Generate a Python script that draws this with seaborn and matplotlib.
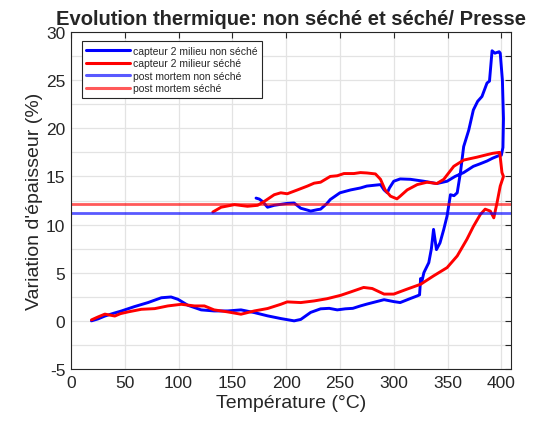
import numpy as np
import pandas as pd
import matplotlib
matplotlib.use("Agg")
import matplotlib.pyplot as plt
from matplotlib.ticker import MultipleLocator, FuncFormatter
import seaborn as sns

# ---- data ----
blue_T = [19, 25, 31.5, 40, 47, 59, 71.6, 84, 93, 99.4, 108.6, 121, 133, 145.7, 158, 170.4,
          182.7, 195, 207.4, 213.6, 222.8, 232, 240, 247.5, 255, 262, 269, 275, 291, 300, 306,
          315, 322, 324, 325, 326, 328, 332.6, 335, 337, 339.7, 343, 346.5, 349.6, 352.7, 356,
          359, 362, 365, 369.7, 374, 378, 382, 386.7, 389, 391.4, 394, 398, 399, 401, 402,
          401.5, 400,
          398.5, 392, 386.7, 380, 374, 365, 357, 349.6, 340, 328, 315.6, 306, 300, 296, 294,
          291, 287.7, 275, 269, 260, 250, 241, 238, 232, 229, 222.8, 219.8, 213.5, 207.4, 201,
          188.9, 182.7, 178, 175, 172]
blue_V = [0, 0.2, 0.5, 0.8, 1.03, 1.48, 1.9, 2.4, 2.48, 2.24, 1.62, 1.14, 1.03, 1.03, 1.14, 0.86,
          0.52, 0.24, 0.0, 0.15, 0.88, 1.25, 1.3, 1.14, 1.25, 1.3, 1.55, 1.74, 2.2, 2.0, 1.9,
          2.3, 2.6, 2.7, 4.4, 4.0, 5.0, 6.05, 7.5, 9.5, 7.4, 8.1, 9.5, 10.9, 13.1, 13.0,
          13.3, 15.4, 18.1, 19.8, 21.9, 22.8, 23.3, 24.7, 24.9, 28.05, 27.8, 27.95, 27.8, 25, 21,
          18, 17.2,
          17.2, 16.9, 16.6, 16.3, 16.05, 15.4, 15.0, 14.5, 14.26, 14.5, 14.7, 14.74, 14.5, 13.8, 13.3,
          13.6, 14.15, 14.0, 13.8, 13.6, 13.3, 12.6, 12.2, 11.6, 11.55, 11.4, 11.5, 11.7, 12.24, 12.2,
          12.0, 11.8, 12.4, 12.65, 12.75]

red_T = [19, 25, 31.5, 40.7, 46, 53, 65.4, 77.8, 90, 102.5, 114.8, 124, 133, 145.7, 158, 170.4,
         182.7, 195, 201, 213.6, 226, 238, 250.6, 259.9, 272, 280, 291, 300, 312.5, 325, 337,
         349.6, 359, 368, 374, 380.5, 385, 389.8, 393, 396, 399, 402, 400.6, 398.5,
         392, 386.7, 377.4, 365, 355.8, 346.5, 340, 331, 321.8, 312.5, 306, 303, 297, 292,
         287.7, 283, 275, 269, 263, 253.7, 247.5, 241, 232, 226, 219.8, 210.5, 201, 195, 188.9,
         179.6, 173.5, 164, 151.9, 139.5, 131.8]
red_V = [0.1, 0.4, 0.7, 0.5, 0.75, 0.93, 1.2, 1.27, 1.55, 1.72, 1.55, 1.55, 1.14, 0.93, 0.69, 1.03,
         1.28, 1.72, 1.97, 1.9, 2.07, 2.3, 2.65, 3.0, 3.47, 3.36, 2.78, 2.78, 3.3, 3.8, 4.67,
         5.53, 6.74, 8.47, 9.8, 11.05, 11.6, 11.4, 10.7, 12.26, 14.0, 15.0, 15.4, 17.5,
         17.4, 17.26, 17.0, 16.7, 16.05, 14.7, 14.26, 14.4, 14.15, 13.6, 12.95, 12.67, 12.95, 13.6,
         14.7, 15.26, 15.36, 15.4, 15.3, 15.3, 15.07, 15.0, 14.4, 14.3, 14.0, 13.6, 13.2, 13.3, 13.1,
         12.4, 12.0, 11.9, 12.07, 11.8, 11.3]

post_mortem_non_seche = 11.2
post_mortem_seche = 12.1

labels = ["capteur 2 milieu non séché", "capteur 2 milieur séché",
          "post mortem non séché", "post mortem séché"]
x_limits = [0, 409]
y_limits = [-5, 30]

# ---- style ----
sns.set_style("white")
plt.rcParams["font.family"] = ["Liberation Sans", "DejaVu Sans"]

fig = plt.figure(figsize=(5.33, 4.31), dpi=100)
ax = fig.add_axes([71 / 533, (431 - 370) / 431, 440 / 533, (370 - 33) / 431])

df_blue = pd.DataFrame({"T": blue_T, "V": blue_V})
df_red = pd.DataFrame({"T": red_T, "V": red_V})

sns.lineplot(data=df_blue, x="T", y="V", sort=False, estimator=None, ax=ax,
             color="#0000ff", lw=2.1, label=labels[0])
sns.lineplot(data=df_red, x="T", y="V", sort=False, estimator=None, ax=ax,
             color="#ff0000", lw=2.1, label=labels[1])
ax.axhline(post_mortem_non_seche, color="#0000ff", alpha=0.65, lw=2.0, label=labels[2])
ax.axhline(post_mortem_seche, color="#ff0000", alpha=0.65, lw=2.0, label=labels[3])

ax.set_xlim(*x_limits)
ax.set_ylim(*y_limits)
ax.xaxis.set_major_locator(MultipleLocator(50))
ax.yaxis.set_major_locator(MultipleLocator(2.5))
ax.yaxis.set_major_formatter(FuncFormatter(lambda v, p: f"{v:g}" if abs(v % 5) < 1e-9 else ""))

ax.grid(True, color="#e3e3e3", lw=0.9)
ax.set_axisbelow(True)
ax.tick_params(direction="in", length=4, width=0.8, top=True, right=True,
               labelsize=12.5, colors="#262626", pad=4)
for s in ax.spines.values():
    s.set_color("#262626")
    s.set_linewidth(0.8)

ax.set_xlabel("Température (°C)", fontsize=14, color="#262626", labelpad=3)
ax.set_ylabel("Variation d'épaisseur (%)", fontsize=14, color="#262626", labelpad=2)
ax.set_title("Evolution thermique: non séché et séché/ Presse", fontsize=14.5,
             fontweight="bold", pad=6)

leg = ax.legend(loc="upper left", bbox_to_anchor=(0.025, 0.972), borderaxespad=0,
                fontsize=7.5, frameon=True, fancybox=False, framealpha=1,
                edgecolor="#262626", handlelength=4.2, handletextpad=0.3,
                labelspacing=0.25, borderpad=0.4)
leg.get_frame().set_linewidth(0.8)
for h in leg.get_lines():
    h.set_linewidth(2.2)

fig.savefig("out.png", dpi=100)
